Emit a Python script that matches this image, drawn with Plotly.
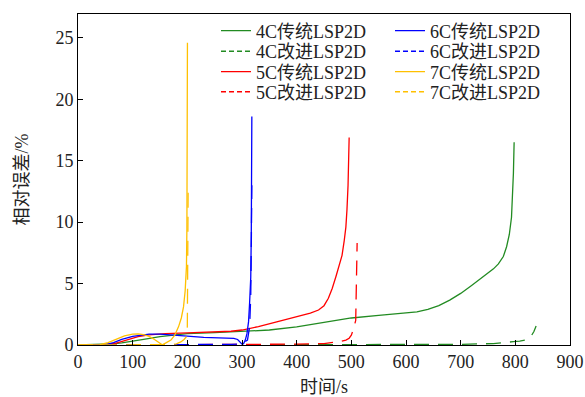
import plotly.graph_objects as go

# ---- data ----
t4_trad = [0, 40, 60, 80, 100, 120, 150, 180, 200, 250, 300, 350, 400, 450, 500, 550, 600, 620, 640, 660, 680, 700, 720, 740, 760, 769, 778, 784, 789, 793, 795, 796.5, 797.8]
e4_trad = [0, 0.02, 0.08, 0.18, 0.3, 0.45, 0.68, 0.85, 0.92, 1.0, 1.08, 1.22, 1.48, 1.85, 2.2, 2.42, 2.6, 2.7, 2.9, 3.2, 3.65, 4.2, 4.85, 5.55, 6.2, 6.6, 7.2, 8.0, 9.0, 10.4, 12.0, 14.0, 16.5]
t4_new = [0, 300, 500, 600, 700, 760, 780, 796, 808, 821, 826, 830, 834, 836, 838]
e4_new = [0, 0.01, 0.02, 0.03, 0.05, 0.12, 0.17, 0.27, 0.32, 0.42, 0.6, 0.8, 1.1, 1.3, 1.55]

t5_trad = [0, 50, 70, 90, 110, 130, 160, 200, 250, 280, 300, 330, 360, 400, 425, 440, 450, 458, 465, 472, 478, 483, 487, 490, 492, 494, 496]
e5_trad = [0, 0.02, 0.15, 0.4, 0.68, 0.82, 0.93, 0.98, 1.03, 1.12, 1.22, 1.5, 1.85, 2.3, 2.6, 2.85, 3.2, 3.8, 4.6, 5.6, 6.5, 7.3, 8.5, 9.6, 11.0, 13.0, 16.9]
t5_new = [0, 200, 300, 400, 450, 470, 480, 490, 496, 500, 504, 508, 509.5, 510.6]
e5_new = [0, 0.01, 0.03, 0.07, 0.12, 0.2, 0.28, 0.4, 0.55, 0.8, 1.3, 2.0, 5.0, 8.3]

t6_trad = [0, 50, 65, 80, 100, 115, 130, 150, 175, 200, 230, 260, 285, 292, 297, 300.5, 303, 306, 309, 312, 314, 316, 317, 317.5, 318]
e6_trad = [0, 0.02, 0.2, 0.45, 0.7, 0.82, 0.88, 0.88, 0.82, 0.72, 0.62, 0.58, 0.54, 0.45, 0.2, 0.05, 0.12, 0.4, 0.9, 1.9, 3.5, 5.5, 9.0, 13.0, 18.6]
t6_new = [0, 100, 200, 280, 300, 310, 314, 316, 317, 318]
e6_new = [0, 0.0, 0.02, 0.05, 0.1, 0.4, 1.5, 4.0, 8.0, 13.0]

t7_trad = [0, 40, 55, 70, 85, 100, 110, 120, 130, 140, 148, 154, 160, 170, 177, 184, 189, 193, 196, 198.4, 199.2, 199.6, 200, 200.2]
e7_trad = [0, 0.02, 0.2, 0.5, 0.75, 0.88, 0.9, 0.85, 0.7, 0.45, 0.2, 0.02, 0.15, 0.4, 0.8, 1.5, 2.2, 3.1, 4.4, 6.4, 9.5, 13.0, 18.5, 24.6]
t7_new = [0, 100, 150, 170, 180, 188, 194, 198, 200, 201, 201.5]
e7_new = [0, 0.0, 0.01, 0.03, 0.1, 0.25, 0.45, 0.65, 1.5, 6.0, 12.9]

names_trad = ["4C传统LSP2D", "5C传统LSP2D", "6C传统LSP2D", "7C传统LSP2D"]
names_new = ["4C改进LSP2D", "5C改进LSP2D", "6C改进LSP2D", "7C改进LSP2D"]
colors = ["#228B22", "#FF0000", "#0000FF", "#FFC000"]

trad = [(t4_trad, e4_trad), (t5_trad, e5_trad), (t6_trad, e6_trad), (t7_trad, e7_trad)]
new = [(t4_new, e4_new), (t5_new, e5_new), (t6_new, e6_new), (t7_new, e7_new)]

FONT = "Liberation Serif, 'Noto Sans CJK SC', serif"
LW = 1.3
PLOT_DASH = "15px,9px"
LEG_DASH = "5px,3px"

fig = go.Figure()

for i in range(4):
    fig.add_trace(go.Scatter(x=trad[i][0], y=trad[i][1], mode="lines",
                             line=dict(color=colors[i], width=LW),
                             showlegend=False, hoverinfo="skip"))
    fig.add_trace(go.Scatter(x=new[i][0], y=new[i][1], mode="lines",
                             line=dict(color=colors[i], width=LW, dash=PLOT_DASH),
                             showlegend=False, hoverinfo="skip"))

# legend: 2 columns x 4 rows, each entry its own legend box
PLOT_L, PLOT_W, PLOT_B, PLOT_H = 78, 492, 345, 331
col_px = [216, 390]
row_px = [31, 51.5, 72, 92]
legend_layouts = {}
k = 0
for i in range(4):
    col = i // 2
    for j, (nm, dash) in enumerate([(names_trad[i], None), (names_new[i], LEG_DASH)]):
        row = (i % 2) * 2 + j
        k += 1
        lname = "legend" if k == 1 else f"legend{k}"
        fig.add_trace(go.Scatter(x=[None], y=[None], mode="lines", name=nm,
                                 line=dict(color=colors[i], width=1.6 if dash else LW, dash=dash),
                                 legend=lname))
        legend_layouts[lname] = dict(
            x=(col_px[col] - PLOT_L) / PLOT_W, y=(PLOT_B - row_px[row]) / PLOT_H,
            xanchor="left", yanchor="middle", bgcolor="rgba(0,0,0,0)",
            itemwidth=30, borderwidth=0,
            font=dict(family=FONT, size=18, color="#222"))

axis_common = dict(showline=True, linecolor="black", linewidth=1, mirror=True,
                   ticks="inside", ticklen=5, tickcolor="black", showgrid=False,
                   zeroline=False, automargin=False,
                   tickfont=dict(family=FONT, size=18, color="#222"))

fig.update_layout(
    width=585, height=397,
    margin=dict(l=78, r=15, t=14, b=52),
    paper_bgcolor="white", plot_bgcolor="white",
    font=dict(family=FONT, size=18, color="#222"),
    xaxis=dict(range=[0, 900], dtick=100, tick0=0,
               title=dict(text="时间/s", font=dict(family=FONT, size=18), standoff=16),
               **axis_common),
    yaxis=dict(range=[0, 26.95], dtick=5, tick0=0,
               title=dict(text="相对误差/%", font=dict(family=FONT, size=18), standoff=22),
               **axis_common),
    **legend_layouts,
)

fig.write_html("out.html")
